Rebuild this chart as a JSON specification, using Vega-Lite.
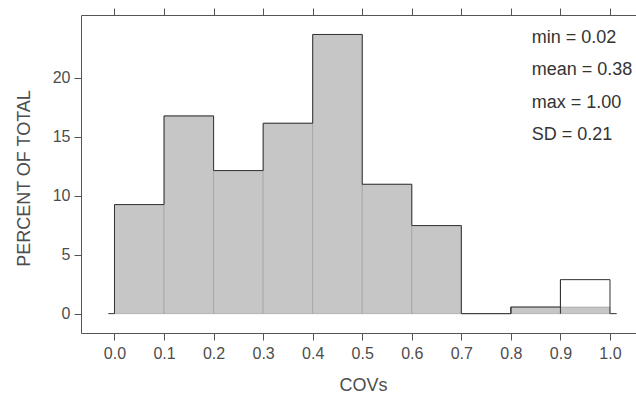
{
  "$schema": "https://vega.github.io/schema/vega-lite/v6.json",
  "width": 555,
  "height": 318,
  "autosize": {"type": "none"},
  "padding": {"left": 81, "top": 15, "right": 0, "bottom": 65},
  "background": "white",
  "config": {
    "view": {"stroke": null},
    "font": "Liberation Sans",
    "axis": {
      "domainColor": "#555555",
      "tickColor": "#555555",
      "labelColor": "#4d4d4d",
      "titleColor": "#4d4d4d",
      "labelFont": "Liberation Sans",
      "titleFont": "Liberation Sans",
      "labelFontSize": 16,
      "titleFontSize": 18,
      "titleFontWeight": "normal",
      "grid": false,
      "tickSize": 7,
      "domainWidth": 1,
      "tickWidth": 1
    }
  },
  "datasets": {
    "bars": [
      {"lo": 0.0, "hi": 0.1, "pct": 9.24},
      {"lo": 0.1, "hi": 0.2, "pct": 16.75},
      {"lo": 0.2, "hi": 0.3, "pct": 12.12},
      {"lo": 0.3, "hi": 0.4, "pct": 16.13},
      {"lo": 0.4, "hi": 0.5, "pct": 23.65},
      {"lo": 0.5, "hi": 0.6, "pct": 10.96},
      {"lo": 0.6, "hi": 0.7, "pct": 7.46},
      {"lo": 0.7, "hi": 0.8, "pct": 0},
      {"lo": 0.8, "hi": 0.9, "pct": 0.56},
      {"lo": 0.9, "hi": 1.0, "pct": 0.56}
    ],
    "outline": [
      {"x": -0.0125, "pct": 0},
      {"x": 0.0, "pct": 9.24},
      {"x": 0.1, "pct": 16.75},
      {"x": 0.2, "pct": 12.12},
      {"x": 0.3, "pct": 16.13},
      {"x": 0.4, "pct": 23.65},
      {"x": 0.5, "pct": 10.96},
      {"x": 0.6, "pct": 7.46},
      {"x": 0.7, "pct": 0},
      {"x": 0.8, "pct": 0.56},
      {"x": 0.9, "pct": 2.88},
      {"x": 1.0, "pct": 0},
      {"x": 1.0135, "pct": 0}
    ],
    "stats": [
      {"x": 0.842, "y": 23.37, "label": "min = 0.02"},
      {"x": 0.842, "y": 20.63, "label": "mean = 0.38"},
      {"x": 0.842, "y": 17.88, "label": "max = 1.00"},
      {"x": 0.842, "y": 15.14, "label": "SD = 0.21"}
    ]
  },
  "layer": [
    {
      "data": {"name": "bars"},
      "mark": {"type": "rect", "fill": "#c6c6c6", "stroke": "#9a9a9a", "strokeWidth": 0.6},
      "encoding": {
        "x": {
          "field": "lo", "type": "quantitative",
          "scale": {"domain": [-0.0676, 1.0525], "nice": false, "zero": false},
          "axis": {
            "values": [0, 0.1, 0.2, 0.3, 0.4, 0.5, 0.6, 0.7, 0.8, 0.9, 1.0],
            "format": ".1f",
            "title": "COVs",
            "labelPadding": 5,
            "titlePadding": 15,
            "titleX": 282
          }
        },
        "x2": {"field": "hi"},
        "y": {
          "field": "pct", "type": "quantitative",
          "scale": {"domain": [-1.64, 25.3], "nice": false, "zero": false},
          "axis": {
            "values": [0, 5, 10, 15, 20],
            "title": "PERCENT OF TOTAL",
            "labelPadding": 4,
            "titlePadding": 19,
            "titleY": 163
          }
        },
        "y2": {"datum": 0}
      }
    },
    {
      "data": {"name": "bars"},
      "mark": {"type": "tick", "opacity": 0},
      "encoding": {
        "x": {
          "field": "lo", "type": "quantitative",
          "axis": {
            "orient": "top",
            "values": [0, 0.1, 0.2, 0.3, 0.4, 0.5, 0.6, 0.7, 0.8, 0.9, 1.0],
            "labels": false,
            "title": null
          }
        }
      }
    },
    {
      "data": {"name": "outline"},
      "mark": {"type": "line", "interpolate": "step-after", "color": "#333333", "strokeWidth": 1},
      "encoding": {
        "x": {"field": "x", "type": "quantitative", "axis": null},
        "y": {"field": "pct", "type": "quantitative"}
      }
    },
    {
      "data": {"name": "outline"},
      "transform": [{"filter": "datum.x >= 0.8 && datum.x <= 1.0"}],
      "mark": {"type": "rule", "color": "#333333", "strokeWidth": 1},
      "encoding": {
        "x": {"field": "x", "type": "quantitative", "axis": null},
        "y": {"field": "pct", "type": "quantitative"},
        "y2": {"datum": 0}
      }
    },
    {
      "data": {"name": "stats"},
      "mark": {"type": "text", "align": "left", "baseline": "middle", "fontSize": 18, "color": "#333333", "font": "Liberation Sans"},
      "encoding": {
        "x": {"field": "x", "type": "quantitative", "axis": null},
        "y": {"field": "y", "type": "quantitative"},
        "text": {"field": "label"}
      }
    }
  ],
  "resolve": {"axis": {"x": "independent"}}
}
